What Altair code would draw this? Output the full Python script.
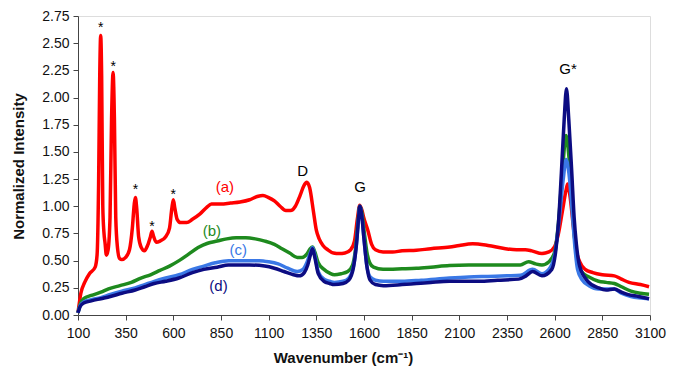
import altair as alt
import pandas as pd

# ---- data ----
red_x = [100, 115, 135, 160, 190, 200, 208, 214, 219, 224, 230, 236, 242, 249, 258, 268, 276, 284, 291, 298, 307, 318, 330, 350, 370, 385, 395, 401, 408, 418, 432, 448, 465, 480, 488, 497, 510, 530, 560, 580, 592, 600, 608, 620, 638, 670, 700, 740, 775, 800, 850, 900, 950, 1000, 1040, 1070, 1100, 1130, 1160, 1190, 1215, 1240, 1265, 1285, 1300, 1315, 1335, 1350, 1365, 1385, 1410, 1440, 1470, 1500, 1530, 1550, 1565, 1578, 1590, 1598, 1620, 1640, 1660, 1700, 1750, 1800, 1875, 1950, 2050, 2100, 2170, 2250, 2342, 2400, 2446, 2480, 2533, 2570, 2600, 2620, 2640, 2660, 2668, 2680, 2700, 2715, 2731, 2760, 2800, 2850, 2913, 2950, 2990, 3050, 3095]
red_y = [0.02, 0.20, 0.30, 0.38, 0.44, 0.55, 1.20, 2.20, 2.57, 2.20, 1.00, 0.76, 0.66, 0.55, 0.60, 0.90, 1.80, 2.23, 1.80, 0.90, 0.62, 0.52, 0.51, 0.53, 0.60, 0.80, 1.02, 1.08, 0.98, 0.72, 0.62, 0.59, 0.64, 0.72, 0.77, 0.72, 0.67, 0.68, 0.72, 0.80, 0.98, 1.06, 0.98, 0.88, 0.85, 0.85, 0.88, 0.93, 0.99, 1.02, 1.02, 1.03, 1.04, 1.06, 1.09, 1.10, 1.08, 1.05, 1.00, 0.96, 0.96, 1.00, 1.10, 1.19, 1.22, 1.17, 0.95, 0.78, 0.70, 0.64, 0.60, 0.57, 0.565, 0.57, 0.60, 0.68, 0.88, 1.01, 0.96, 0.90, 0.78, 0.65, 0.60, 0.58, 0.58, 0.59, 0.595, 0.61, 0.625, 0.64, 0.655, 0.64, 0.61, 0.60, 0.60, 0.59, 0.565, 0.58, 0.63, 0.75, 0.95, 1.15, 1.205, 1.10, 0.78, 0.58, 0.49, 0.42, 0.39, 0.37, 0.36, 0.33, 0.30, 0.28, 0.26]

green_x = [100, 112, 130, 170, 220, 260, 320, 380, 430, 480, 530, 580, 630, 680, 730, 780, 830, 880, 930, 980, 1030, 1080, 1130, 1170, 1210, 1250, 1275, 1300, 1318, 1330, 1342, 1360, 1390, 1420, 1445, 1480, 1515, 1540, 1555, 1568, 1578, 1590, 1602, 1615, 1630, 1650, 1700, 1800, 1875, 1950, 2048, 2150, 2250, 2350, 2420, 2463, 2500, 2533, 2570, 2600, 2620, 2640, 2660, 2675, 2690, 2705, 2720, 2745, 2780, 2830, 2870, 2913, 2950, 3000, 3050, 3095]
green_y = [0.02, 0.10, 0.15, 0.18, 0.21, 0.24, 0.27, 0.30, 0.34, 0.37, 0.41, 0.45, 0.50, 0.56, 0.62, 0.66, 0.68, 0.70, 0.71, 0.71, 0.70, 0.68, 0.65, 0.61, 0.57, 0.53, 0.53, 0.56, 0.61, 0.625, 0.58, 0.48, 0.42, 0.385, 0.37, 0.38, 0.40, 0.46, 0.60, 0.85, 1.00, 0.93, 0.75, 0.58, 0.48, 0.44, 0.42, 0.425, 0.43, 0.44, 0.455, 0.46, 0.46, 0.46, 0.46, 0.49, 0.47, 0.46, 0.49, 0.58, 0.85, 1.30, 1.65, 1.45, 1.05, 0.70, 0.48, 0.39, 0.35, 0.31, 0.30, 0.29, 0.26, 0.22, 0.20, 0.19]

lblue_x = [100, 112, 130, 170, 220, 270, 330, 400, 450, 500, 560, 630, 700, 760, 820, 890, 950, 1000, 1050, 1100, 1150, 1200, 1250, 1280, 1300, 1320, 1330, 1342, 1360, 1390, 1420, 1445, 1490, 1520, 1545, 1560, 1572, 1578, 1588, 1600, 1615, 1632, 1660, 1702, 1800, 1900, 2048, 2150, 2250, 2350, 2420, 2484, 2533, 2570, 2600, 2625, 2645, 2660, 2675, 2690, 2705, 2720, 2745, 2780, 2830, 2913, 2950, 3000, 3095]
lblue_y = [0.02, 0.09, 0.12, 0.14, 0.16, 0.19, 0.22, 0.25, 0.28, 0.31, 0.34, 0.37, 0.42, 0.45, 0.48, 0.50, 0.50, 0.50, 0.50, 0.49, 0.47, 0.43, 0.40, 0.42, 0.48, 0.58, 0.62, 0.55, 0.40, 0.33, 0.31, 0.30, 0.31, 0.34, 0.45, 0.65, 0.90, 1.00, 0.92, 0.70, 0.45, 0.35, 0.32, 0.31, 0.31, 0.32, 0.34, 0.35, 0.355, 0.36, 0.365, 0.42, 0.38, 0.42, 0.55, 0.90, 1.25, 1.43, 1.30, 1.00, 0.65, 0.42, 0.32, 0.27, 0.24, 0.24, 0.20, 0.17, 0.15]

dblue_x = [100, 112, 130, 170, 220, 270, 330, 400, 450, 500, 560, 629, 700, 760, 830, 889, 950, 1000, 1079, 1130, 1180, 1230, 1260, 1287, 1305, 1320, 1330, 1342, 1360, 1390, 1420, 1443, 1490, 1520, 1545, 1560, 1572, 1578, 1588, 1600, 1615, 1632, 1660, 1702, 1800, 1875, 1950, 2048, 2204, 2300, 2411, 2450, 2484, 2533, 2585, 2605, 2620, 2635, 2650, 2662, 2674, 2690, 2702, 2714, 2731, 2774, 2830, 2870, 2913, 2950, 2982, 3040, 3095]
dblue_y = [0.02, 0.08, 0.11, 0.13, 0.15, 0.17, 0.20, 0.23, 0.26, 0.29, 0.31, 0.34, 0.39, 0.42, 0.44, 0.46, 0.46, 0.46, 0.45, 0.43, 0.40, 0.37, 0.36, 0.39, 0.46, 0.56, 0.61, 0.53, 0.38, 0.31, 0.29, 0.28, 0.29, 0.32, 0.44, 0.64, 0.90, 1.00, 0.92, 0.70, 0.45, 0.32, 0.28, 0.27, 0.28, 0.29, 0.30, 0.31, 0.31, 0.32, 0.33, 0.36, 0.40, 0.36, 0.42, 0.58, 0.85, 1.30, 1.80, 2.08, 1.80, 1.30, 0.90, 0.65, 0.45, 0.31, 0.25, 0.23, 0.24, 0.21, 0.19, 0.17, 0.15]

# annotations
star_x = [219, 285, 401, 488, 600]
star_y = [2.67, 2.31, 1.18, 0.84, 1.13]
label_text = ["D", "G", "G*", "(a)", "(b)", "(c)", "(d)"]
label_x = [1278, 1580, 2670, 870, 802, 941, 837]
label_y = [1.32, 1.18, 2.26, 1.18, 0.775, 0.60, 0.27]
label_color = ["#000000", "#000000", "#000000", "#ff0000", "#1e8a1e", "#3a78e6", "#0c0c82"]

x_ticks = [100, 350, 600, 850, 1100, 1350, 1600, 1850, 2100, 2350, 2600, 2850, 3100]
y_ticks = [0, 0.25, 0.5, 0.75, 1.0, 1.25, 1.5, 1.75, 2.0, 2.25, 2.5, 2.75]

FONT = "Liberation Sans"

xscale = alt.Scale(domain=[100, 3100], nice=False, zero=False)
yscale = alt.Scale(domain=[0, 2.75], nice=False)

xaxis = alt.Axis(values=x_ticks, format="d", title="Wavenumber (cm⁻¹)", grid=False,
                 labelFont=FONT, labelFontSize=14, labelColor="#111111",
                 titleFont=FONT, titleFontSize=15, titleFontWeight="bold", titleColor="#111111",
                 domainColor="#444444", tickColor="#444444", tickSize=5, labelPadding=6,
                 titleX=265, titleY=42, titleBaseline="middle", titleAlign="center",
                 labelFlush=False)
yaxis = alt.Axis(values=y_ticks, format=".2f", title="Normalized Intensity", grid=False,
                 labelFont=FONT, labelFontSize=14, labelColor="#111111",
                 titleFont=FONT, titleFontSize=15, titleFontWeight="bold", titleColor="#111111",
                 domainColor="#444444", tickColor="#444444", tickSize=5, labelPadding=4,
                 titleX=-60, titleY=150, titleAngle=-90, titleBaseline="middle", titleAlign="center",
                 labelFlush=False)

X = lambda: alt.X("x:Q", scale=xscale, axis=xaxis)
Y = lambda: alt.Y("y:Q", scale=yscale, axis=yaxis)


def line(xs, ys, color):
    df = pd.DataFrame({"x": xs, "y": ys})
    return alt.Chart(df).mark_line(color=color, strokeWidth=3.5, interpolate="monotone").encode(x=X(), y=Y())


layers = [
    line(red_x, red_y, "#ff0000"),
    line(green_x, green_y, "#1e8a1e"),
    line(lblue_x, lblue_y, "#3a78e6"),
    line(dblue_x, dblue_y, "#0c0c82"),
]

stars = alt.Chart(pd.DataFrame({"x": star_x, "y": star_y, "t": ["*"] * len(star_x)})).mark_text(
    font=FONT, fontSize=14, color="#000000", baseline="middle", align="center", dy=3
).encode(x=X(), y=Y(), text="t:N")

labels = alt.Chart(pd.DataFrame({"x": label_x, "y": label_y, "t": label_text, "c": label_color})).mark_text(
    font=FONT, fontSize=15, baseline="middle", align="center"
).encode(x=X(), y=Y(), text="t:N", color=alt.Color("c:N", scale=None))

chart = alt.layer(*layers, stars, labels).properties(
    width=572, height=299,
    autosize=alt.AutoSizeParams(type="none"),
    padding={"left": 70, "top": 8, "right": 17, "bottom": 56},
).configure_view(strokeWidth=0).configure(background="white")

chart.save("out.html", embed_options={"renderer": "svg", "actions": False})
